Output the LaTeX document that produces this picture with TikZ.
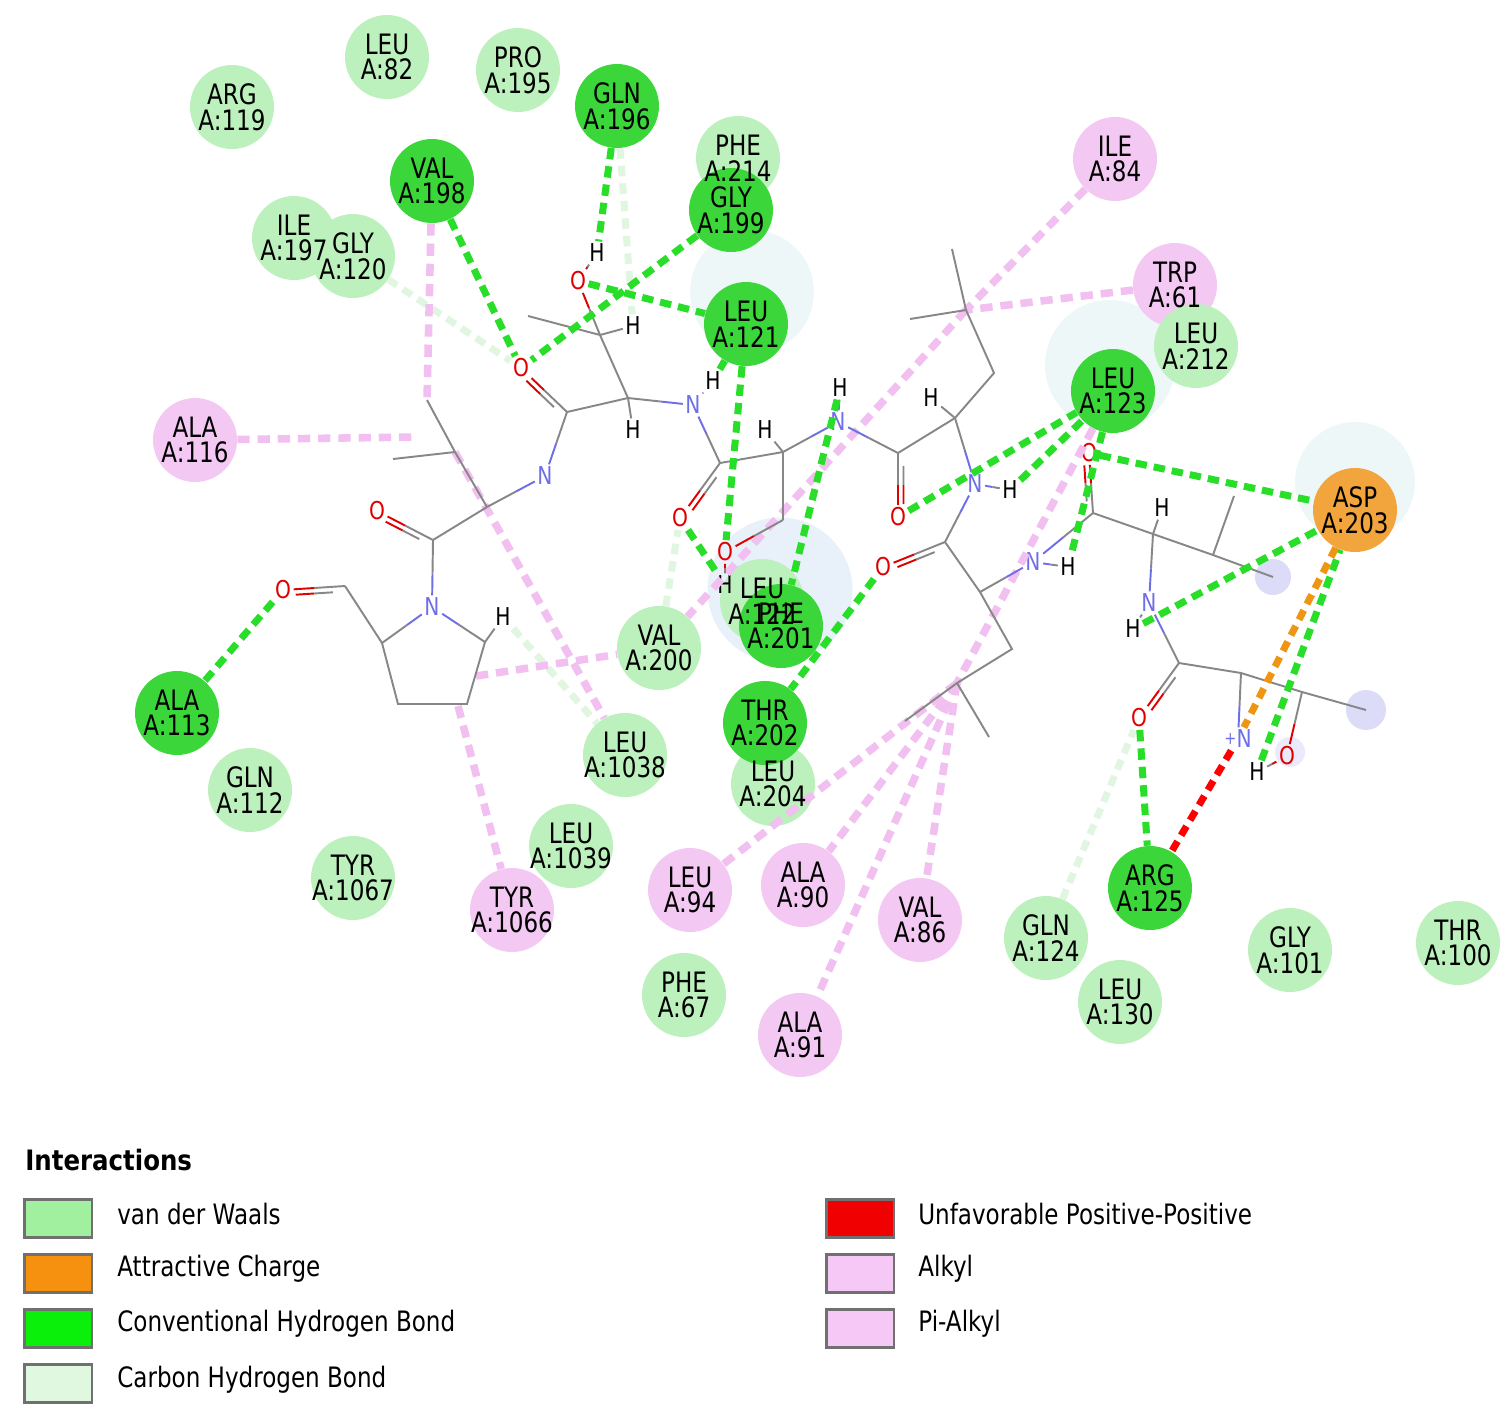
\documentclass[tikz,border=0pt]{standalone}
\usepackage{fontspec}
\usetikzlibrary{calc}
\newfontfamily\resfont[FakeStretch=0.82]{DejaVu Sans}
\newfontfamily\legfont[FakeStretch=0.82]{DejaVu Sans}
\newfontfamily\titfont[FakeStretch=0.87]{DejaVu Sans}
\definecolor{hbc}{RGB}{40,222,40}
\definecolor{pkc}{RGB}{242,192,240}
\definecolor{chbc}{RGB}{224,246,224}
\definecolor{vdwc}{RGB}{188,240,188}
\definecolor{dkgc}{RGB}{58,214,58}
\definecolor{pkrc}{RGB}{243,200,243}
\definecolor{orgc}{RGB}{242,165,60}
\definecolor{ocl}{RGB}{238,150,20}
\definecolor{bondc}{RGB}{135,135,135}
\definecolor{Oc}{RGB}{225,0,0}
\definecolor{Nc}{RGB}{110,110,230}
\definecolor{haloc}{RGB}{238,247,248}
\definecolor{halob}{RGB}{232,240,249}
\definecolor{glowc}{RGB}{220,220,248}
\definecolor{legborder}{RGB}{112,112,112}
\definecolor{lvdw}{RGB}{160,240,160}
\definecolor{lorg}{RGB}{245,145,15}
\definecolor{lhb}{RGB}{10,240,10}
\definecolor{lchb}{RGB}{224,248,224}
\definecolor{lunf}{RGB}{240,0,0}
\definecolor{lalk}{RGB}{245,200,245}
\newcommand\hb[4]{\draw[bond,draw=#3] (#1) -- ($(#1)!0.5!(#2)$);\draw[bond,draw=#4] ($(#1)!0.5!(#2)$) -- (#2);}
\newcommand\dbl[5]{\hb{#1}{#2}{#3}{#4}%
 \draw[bond,draw=#3] ($(#1)!0.2!(#2)!0.11cm!#5:(#2)$) -- ($(#1)!0.5!(#2)!0.11cm!#5:(#2)$);%
 \draw[bond,draw=#4] ($(#1)!0.5!(#2)!0.11cm!#5:(#2)$) -- ($(#1)!0.8!(#2)!0.11cm!#5:(#2)$);}
\begin{document}
\begin{tikzpicture}[x=0.02cm,y=-0.02cm,
 res/.style={circle,minimum size=1.68cm,inner sep=0pt},
 vdwr/.style={res,fill=vdwc},
 hbr/.style={res,fill=dkgc},
 pkres/.style={res,fill=pkrc},
 orr/.style={res,fill=orgc},
 lab/.style={align=center,inner sep=0pt,font=\resfont\fontsize{16}{14.7}\selectfont},
 atom/.style={inner sep=1.3pt,font=\resfont\fontsize{14}{14}\selectfont},
 atO/.style={atom,text=Oc},
 atN/.style={atom,text=Nc},
 atH/.style={atom,text=black},
 bond/.style={line width=1.1pt},
 hbond/.style={draw=hbc,line width=4pt,dash pattern=on 6.5pt off 4pt},
 alk/.style={draw=pkc,line width=4.3pt,dash pattern=on 7pt off 4.5pt},
 chb/.style={draw=chbc,line width=4pt,dash pattern=on 6pt off 4pt},
 attr/.style={draw=ocl,line width=4pt,dash pattern=on 6pt off 4pt},
 unf/.style={draw=red,line width=4pt,dash pattern=on 6pt off 4pt},
 legbox/.style={draw=legborder,line width=1.7pt,minimum width=1.36cm,minimum height=0.76cm,inner sep=0pt},
 legtxt/.style={anchor=west,inner sep=0pt,font=\legfont\fontsize{16}{16}\selectfont}
]
\useasboundingbox (0,0) rectangle (1512,1424);
% halos
\fill[haloc] (752,292) circle (1.24cm);
\fill[haloc] (1110,365) circle (1.3cm);
\fill[haloc] (1355,482) circle (1.2cm);
\fill[halob] (780,590) circle (1.45cm);
\fill[glowc] (1273,577) circle (0.36cm);
\fill[glowc] (1366,710) circle (0.4cm);
\fill[glowc!60!white] (1290,752) circle (0.3cm);
% residue circles
\node[vdwr] (arg119) at (232,107) {};
\node[vdwr] (leu82) at (387,57) {};
\node[vdwr] (pro195) at (518,70) {};
\node[hbr] (gln196) at (617,106) {};
\node[hbr] (val198) at (432,181) {};
\node[vdwr] (phe214) at (738,158) {};
\node[hbr] (gly199) at (731,210) {};
\node[vdwr] (ile197) at (294,238) {};
\node[vdwr] (gly120) at (353,256) {};
\node[hbr] (leu121) at (746,324) {};
\node[pkres] (ile84) at (1115,159) {};
\node[pkres] (trp61) at (1175,285) {};
\node[vdwr] (leu212) at (1196,346) {};
\node[hbr] (leu123) at (1113,391) {};
\node[pkres] (ala116) at (195,440) {};
\node[orr] (asp203) at (1355,510) {};
\node[vdwr] (leu122) at (762,601) {};
\node[hbr] (phe201) at (781,626) {};
\node[vdwr] (val200) at (659,648) {};
\node[hbr] (ala113) at (177,713) {};
\node[vdwr] (leu1038) at (625,755) {};
\node[vdwr] (leu204) at (773,784) {};
\node[hbr] (thr202) at (765,723) {};
\node[vdwr] (gln112) at (250,790) {};
\node[vdwr] (tyr1067) at (353,878) {};
\node[vdwr] (leu1039) at (571,846) {};
\node[pkres] (tyr1066) at (512,910) {};
\node[pkres] (leu94) at (690,890) {};
\node[pkres] (ala90) at (803,885) {};
\node[pkres] (val86) at (920,920) {};
\node[vdwr] (phe67) at (684,995) {};
\node[pkres] (ala91) at (800,1035) {};
\node[vdwr] (gln124) at (1046,938) {};
\node[hbr] (arg125) at (1150,888) {};
\node[vdwr] (leu130) at (1120,1002) {};
\node[vdwr] (gly101) at (1290,950) {};
\node[vdwr] (thr100) at (1458,943) {};
% atoms
\node[atH] (h1) at (597,253) {H};
\node[atO] (o1) at (578,281) {O};
\node[atH] (h2) at (633,326) {H};
\node[atH] (h3) at (633,430) {H};
\node[atO] (o3) at (521,368) {O};
\node[atN] (n1) at (545,476) {N};
\node[atO] (o6) at (377,511) {O};
\node[atN] (n2) at (432,607) {N};
\node[atH] (h4) at (503,617) {H};
\node[atO] (o7) at (283,590) {O};
\node[atN] (n3) at (693,405) {N};
\node[atH] (h5) at (713,381) {H};
\node[atO] (o8) at (680,518) {O};
\node[atH] (h6) at (765,430) {H};
\node[atO] (o10) at (725,552) {O};
\node[atH] (h7) at (725,585) {H};
\node[atN] (n4) at (838,422) {N};
\node[atH] (h8) at (840,388) {H};
\node[atO] (o11) at (898,517) {O};
\node[atH] (h9) at (931,398) {H};
\node[atN] (n5) at (975,484) {N};
\node[atH] (h10) at (1010,490) {H};
\node[atO] (o15) at (883,567) {O};
\node[atN] (n6) at (1033,562) {N};
\node[atH] (h11) at (1068,567) {H};
\node[atO] (o19) at (1089,453) {O};
\node[atH] (h12) at (1162,508) {H};
\node[atN] (n7) at (1149,603) {N};
\node[atH] (h13) at (1133,629) {H};
\node[atO] (o22) at (1139,718) {O};
\node[atN] (n8) at (1238,739) {\raisebox{2pt}{\fontsize{10}{10}\selectfont +}N};
\node[atO] (o24) at (1287,756) {O};
\node[atH] (h14) at (1257,772) {H};
% carbon coordinates
\coordinate (c1) at (600,335);
\coordinate (m1) at (528,316);
\coordinate (c2) at (628,398);
\coordinate (c3) at (567,412);
\coordinate (c4) at (487,507);
\coordinate (c5) at (455,452);
\coordinate (m5a) at (427,400);
\coordinate (m5b) at (393,459);
\coordinate (c6) at (433,540);
\coordinate (r1) at (382,643);
\coordinate (r2) at (398,704);
\coordinate (r3) at (467,704);
\coordinate (r4) at (485,642);
\coordinate (c7) at (345,586);
\coordinate (c8) at (720,463);
\coordinate (c9) at (783,452);
\coordinate (c10) at (783,520);
\coordinate (c11) at (898,453);
\coordinate (c12) at (955,418);
\coordinate (c13) at (994,373);
\coordinate (c14) at (966,310);
\coordinate (m14a) at (952,249);
\coordinate (m14b) at (910,319);
\coordinate (c15) at (945,542);
\coordinate (c16) at (980,592);
\coordinate (c17) at (1012,649);
\coordinate (c18) at (957,683);
\coordinate (m18a) at (905,721);
\coordinate (m18b) at (989,737);
\coordinate (c19) at (1093,513);
\coordinate (c20) at (1153,534);
\coordinate (c21) at (1213,555);
\coordinate (m21a) at (1234,496);
\coordinate (m21b) at (1273,577);
\coordinate (c22) at (1179,663);
\coordinate (c23) at (1241,673);
\coordinate (c24) at (1302,692);
\coordinate (m24) at (1366,710);
\coordinate (p5) at (418,437);
\coordinate (p7) at (476,676);
\coordinate (p8) at (458,706);
% carbon hydrogen bonds (pale)
\draw[chb] (h4) -- (leu1038);
\draw[chb] (gln124) -- (o22);
\draw[chb] (gly120) -- (o3);
\draw[chb] (gln196) -- (h2);
\draw[chb] (val200) -- (o8);
% alkyl / pi-alkyl
\draw[alk] (ile84) -- (c14);
\draw[alk] (trp61) -- (c14);
\draw[alk] (c14) -- (val200);
\draw[alk] (val198) -- (m5a);
\draw[alk] (ala116) -- (p5);
\draw[alk] (c5) -- (leu1038);
\draw[alk] (p7) -- (val200);
\draw[alk] (p8) -- (tyr1066);
\draw[alk] (leu123) -- (c18);
\draw[alk] (c18) -- (leu94);
\draw[alk] (c18) -- (ala90);
\draw[alk] (c18) -- (ala91);
\draw[alk] (c18) -- (val86);
% bonds
\hb{c1}{o1}{bondc}{Oc}
\hb{o1}{h1}{Oc}{bondc}
\draw[bond,draw=bondc] (c1) -- (m1);
\draw[bond,draw=bondc] (c1) -- (h2);
\draw[bond,draw=bondc] (c1) -- (c2);
\draw[bond,draw=bondc] (c2) -- (h3);
\draw[bond,draw=bondc] (c2) -- (c3);
\dbl{c3}{o3}{bondc}{Oc}{90}
\hb{c3}{n1}{bondc}{Nc}
\hb{c4}{n1}{bondc}{Nc}
\draw[bond,draw=bondc] (c4) -- (c5) (c5) -- (m5a) (c5) -- (m5b) (c4) -- (c6);
\dbl{c6}{o6}{bondc}{Oc}{90}
\hb{c6}{n2}{bondc}{Nc}
\hb{r1}{n2}{bondc}{Nc}
\hb{r4}{n2}{bondc}{Nc}
\draw[bond,draw=bondc] (r1) -- (r2) -- (r3) -- (r4);
\draw[bond,draw=bondc] (r4) -- (h4);
\draw[bond,draw=bondc] (r1) -- (c7);
\dbl{c7}{o7}{bondc}{Oc}{90}
\hb{c2}{n3}{bondc}{Nc}
\hb{n3}{h5}{Nc}{bondc}
\hb{c8}{n3}{bondc}{Nc}
\dbl{c8}{o8}{bondc}{Oc}{90}
\draw[bond,draw=bondc] (c8) -- (c9) (c9) -- (h6) (c9) -- (c10);
\hb{c10}{o10}{bondc}{Oc}
\hb{o10}{h7}{Oc}{bondc}
\hb{c9}{n4}{bondc}{Nc}
\hb{n4}{h8}{Nc}{bondc}
\hb{c11}{n4}{bondc}{Nc}
\dbl{c11}{o11}{bondc}{Oc}{90}
\draw[bond,draw=bondc] (c11) -- (c12) (c12) -- (h9) (c12) -- (c13) -- (c14) (c14) -- (m14a) (c14) -- (m14b);
\hb{c12}{n5}{bondc}{Nc}
\hb{n5}{h10}{Nc}{bondc}
\hb{c15}{n5}{bondc}{Nc}
\dbl{c15}{o15}{bondc}{Oc}{90}
\draw[bond,draw=bondc] (c15) -- (c16) (c16) -- (c17) -- (c18) (c18) -- (m18a) (c18) -- (m18b);
\hb{c16}{n6}{bondc}{Nc}
\hb{n6}{h11}{Nc}{bondc}
\hb{c19}{n6}{bondc}{Nc}
\dbl{c19}{o19}{bondc}{Oc}{90}
\draw[bond,draw=bondc] (c19) -- (c20) (c20) -- (h12) (c20) -- (c21) (c21) -- (m21a) (c21) -- (m21b);
\hb{c20}{n7}{bondc}{Nc}
\hb{n7}{h13}{Nc}{bondc}
\hb{c22}{n7}{bondc}{Nc}
\dbl{c22}{o22}{bondc}{Oc}{90}
\draw[bond,draw=bondc] (c22) -- (c23) (c23) -- (c24) (c24) -- (m24);
\hb{c23}{n8}{bondc}{Nc}
\hb{c24}{o24}{bondc}{Oc}
\hb{o24}{h14}{Oc}{bondc}
% conventional hydrogen bonds
\draw[hbond] (gln196) -- (h1);
\draw[hbond] (val198) -- (o3);
\draw[hbond] (gly199) -- (o3);
\draw[hbond] (o1) -- (leu121);
\draw[hbond] (leu121) -- (h5);
\draw[hbond] (leu121) -- (o10);
\draw[hbond] (o8) -- (h7);
\draw[hbond] (h8) -- (phe201);
\draw[hbond] (o15) -- (thr202);
\draw[hbond] (o11) -- (leu123);
\draw[hbond] (h10) -- (leu123);
\draw[hbond] (leu123) -- (h11);
\draw[hbond] (o19) -- (asp203);
\draw[hbond] (h13) -- (asp203);
\draw[hbond] (h14) -- (asp203);
\draw[hbond] (o22) -- (arg125);
\draw[hbond] (o7) -- (ala113);
\draw[attr] (asp203) -- (n8);
\draw[unf] (n8) -- (arg125);
% residue labels
\node[lab] (arg119t) at (arg119) {ARG\\A:119};
\node[lab] (leu82t) at (leu82) {LEU\\A:82};
\node[lab] (pro195t) at (pro195) {PRO\\A:195};
\node[lab] (gln196t) at (gln196) {GLN\\A:196};
\node[lab] (val198t) at (val198) {VAL\\A:198};
\node[lab] (phe214t) at (phe214) {PHE\\A:214};
\node[lab] (gly199t) at (gly199) {GLY\\A:199};
\node[lab] (ile197t) at (ile197) {ILE\\A:197};
\node[lab] (gly120t) at (gly120) {GLY\\A:120};
\node[lab] (leu121t) at (leu121) {LEU\\A:121};
\node[lab] (ile84t) at (ile84) {ILE\\A:84};
\node[lab] (trp61t) at (trp61) {TRP\\A:61};
\node[lab] (leu212t) at (leu212) {LEU\\A:212};
\node[lab] (leu123t) at (leu123) {LEU\\A:123};
\node[lab] (ala116t) at (ala116) {ALA\\A:116};
\node[lab] (asp203t) at (asp203) {ASP\\A:203};
\node[lab] (leu122t) at (leu122) {LEU\\A:122};
\node[lab] (phe201t) at (phe201) {PHE\\A:201};
\node[lab] (val200t) at (val200) {VAL\\A:200};
\node[lab] (ala113t) at (ala113) {ALA\\A:113};
\node[lab] (leu1038t) at (leu1038) {LEU\\A:1038};
\node[lab] (thr202t) at (thr202) {THR\\A:202};
\node[lab] (leu204t) at (leu204) {LEU\\A:204};
\node[lab] (gln112t) at (gln112) {GLN\\A:112};
\node[lab] (tyr1067t) at (tyr1067) {TYR\\A:1067};
\node[lab] (leu1039t) at (leu1039) {LEU\\A:1039};
\node[lab] (tyr1066t) at (tyr1066) {TYR\\A:1066};
\node[lab] (leu94t) at (leu94) {LEU\\A:94};
\node[lab] (ala90t) at (ala90) {ALA\\A:90};
\node[lab] (val86t) at (val86) {VAL\\A:86};
\node[lab] (phe67t) at (phe67) {PHE\\A:67};
\node[lab] (ala91t) at (ala91) {ALA\\A:91};
\node[lab] (gln124t) at (gln124) {GLN\\A:124};
\node[lab] (arg125t) at (arg125) {ARG\\A:125};
\node[lab] (leu130t) at (leu130) {LEU\\A:130};
\node[lab] (gly101t) at (gly101) {GLY\\A:101};
\node[lab] (thr100t) at (thr100) {THR\\A:100};
% legend
\node[anchor=west,inner sep=0pt,font=\titfont\bfseries\fontsize{16}{16}\selectfont] (legtitle) at (25,1160) {Interactions};
\node[legbox,fill=lvdw] (lb1) at (58,1218) {};
\node[legbox,fill=lorg] (lb2) at (58,1273) {};
\node[legbox,fill=lhb] (lb3) at (58,1328) {};
\node[legbox,fill=lchb] (lb4) at (58,1383) {};
\node[legbox,fill=lunf] (lb5) at (860,1218) {};
\node[legbox,fill=lalk] (lb6) at (860,1273) {};
\node[legbox,fill=lalk] (lb7) at (860,1328) {};
\node[legtxt] (lt1) at (117,1214) {van der Waals};
\node[legtxt] (lt2) at (117,1269) {Attractive Charge};
\node[legtxt] (lt3) at (117,1324) {Conventional Hydrogen Bond};
\node[legtxt] (lt4) at (117,1380) {Carbon Hydrogen Bond};
\node[legtxt] (lt5) at (918,1214) {Unfavorable Positive-Positive};
\node[legtxt] (lt6) at (918,1269) {Alkyl};
\node[legtxt] (lt7) at (918,1324) {Pi-Alkyl};
\end{tikzpicture}
\end{document}
